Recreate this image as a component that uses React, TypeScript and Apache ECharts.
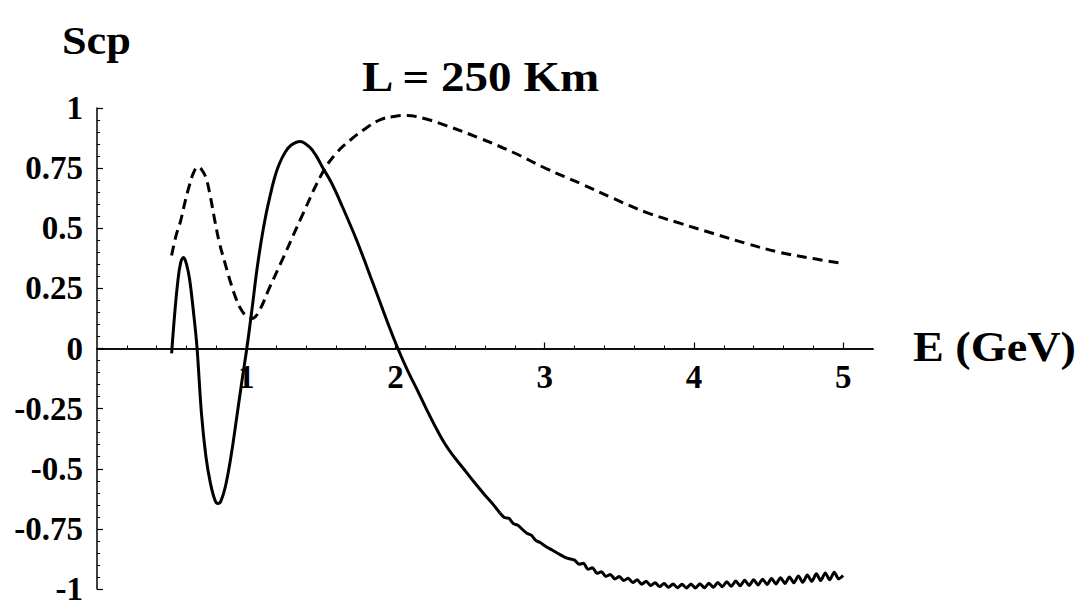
import React, { useEffect, useRef } from 'react';
import * as echarts from 'echarts';

// Solid curve (smooth part), [E (GeV), Scp]
const solidSmooth: [number, number][] = [
  [0.50, -0.02], [0.52, 0.14], [0.54, 0.27], [0.56, 0.355], [0.58, 0.378], [0.60, 0.35],
  [0.62, 0.29], [0.645, 0.16], [0.67, 0.005], [0.70, -0.27], [0.73, -0.45], [0.76, -0.56],
  [0.79, -0.63], [0.81, -0.645], [0.83, -0.635], [0.86, -0.575], [0.90, -0.44], [0.94, -0.27],
  [0.97, -0.14], [1.005, 0.005], [1.04, 0.17], [1.07, 0.32], [1.10, 0.445], [1.13, 0.55],
  [1.16, 0.635], [1.19, 0.71], [1.22, 0.765], [1.26, 0.815], [1.30, 0.845], [1.36, 0.861],
  [1.42, 0.84], [1.47, 0.80], [1.51, 0.755], [1.57, 0.69], [1.63, 0.61], [1.74, 0.45],
  [1.85, 0.27], [1.96, 0.087], [2.016, 0.0], [2.08, -0.09], [2.14, -0.165], [2.21, -0.255],
  [2.28, -0.34], [2.33, -0.395], [2.38, -0.44], [2.45, -0.495], [2.52, -0.55], [2.60, -0.61],
  [2.65, -0.645], [2.70, -0.684],
];

// Solid curve (numerically noisy tail), [E (GeV), Scp]
const solidNoisy: [number, number][] = [
  [2.70, -0.684], [2.73, -0.703], [2.76, -0.706], [2.79, -0.728], [2.82, -0.735], [2.85, -0.752],
  [2.88, -0.768], [2.91, -0.776], [2.94, -0.798], [2.97, -0.807], [3.00, -0.820], [3.05, -0.838],
  [3.10, -0.856], [3.15, -0.872], [3.20, -0.880], [3.23, -0.897], [3.26, -0.893], [3.29, -0.918],
  [3.32, -0.912], [3.35, -0.935], [3.38, -0.928], [3.41, -0.948], [3.44, -0.940], [3.47, -0.958],
  [3.50, -0.948], [3.53, -0.965], [3.56, -0.955], [3.59, -0.973], [3.62, -0.962], [3.65, -0.980],
  [3.68, -0.968], [3.71, -0.986], [3.74, -0.974], [3.77, -0.990], [3.80, -0.977], [3.83, -0.993],
  [3.86, -0.979], [3.89, -0.995], [3.92, -0.980], [3.95, -0.996], [3.98, -0.979], [4.01, -0.996],
  [4.04, -0.978], [4.07, -0.995], [4.10, -0.976], [4.13, -0.993], [4.16, -0.973], [4.19, -0.991],
  [4.22, -0.970], [4.25, -0.989], [4.28, -0.967], [4.31, -0.987], [4.34, -0.964], [4.37, -0.985],
  [4.40, -0.962], [4.43, -0.983], [4.46, -0.959], [4.49, -0.981], [4.52, -0.956], [4.55, -0.979],
  [4.58, -0.953], [4.61, -0.977], [4.64, -0.950], [4.67, -0.974], [4.70, -0.946], [4.73, -0.972],
  [4.76, -0.942], [4.79, -0.968], [4.82, -0.937], [4.85, -0.965], [4.88, -0.933], [4.91, -0.962],
  [4.94, -0.930], [4.97, -0.958], [5.00, -0.944],
];

// Dashed curve, [E (GeV), Scp]
const dashed: [number, number][] = [
  [0.50, 0.387], [0.53, 0.47], [0.56, 0.53], [0.59, 0.61], [0.62, 0.68], [0.65, 0.735],
  [0.677, 0.755], [0.70, 0.745], [0.73, 0.71], [0.76, 0.63], [0.79, 0.53], [0.82, 0.44],
  [0.86, 0.35], [0.89, 0.285], [0.93, 0.21], [0.96, 0.168], [1.00, 0.135], [1.04, 0.125],
  [1.09, 0.16], [1.15, 0.245], [1.25, 0.38], [1.38, 0.56], [1.51, 0.73], [1.60, 0.81],
  [1.70, 0.868], [1.80, 0.915], [1.90, 0.952], [2.00, 0.966], [2.07, 0.969], [2.20, 0.955],
  [2.34, 0.927], [2.57, 0.873], [2.79, 0.815], [3.01, 0.748], [3.24, 0.686], [3.46, 0.624],
  [3.68, 0.566], [3.91, 0.520], [4.13, 0.478], [4.35, 0.437], [4.58, 0.399], [4.80, 0.374],
  [5.00, 0.353],
];

const xMajorTicks = [1, 2, 3, 4, 5];
const xMinorTicks = [0.2, 0.4, 0.6, 0.8, 1.2, 1.4, 1.6, 1.8, 2.2, 2.4, 2.6, 2.8, 3.2, 3.4, 3.6, 3.8, 4.2, 4.4, 4.6, 4.8];

const xTitle = 'E (GeV)';
const yTitle = 'Scp';
const plotTitle = 'L = 250 Km';

const FONT = '"Liberation Serif", "Times New Roman", serif';

const GRID_TOP = 108;
const GRID_BOTTOM = 21;
const CHART_H = 610;

export default function App() {
  const ref = useRef<HTMLDivElement>(null);
  useEffect(() => {
    if (!ref.current) return;
    const chart = echarts.init(ref.current, undefined, { renderer: 'svg' });
    // the horizontal axis sits at Scp = 0, the middle of the symmetric [-1, 1] range
    const midOffset = -(CHART_H - GRID_TOP - GRID_BOTTOM) / 2;
    const lineStyle = { color: '#000', width: 1.5 };
    chart.setOption({
      animation: false,
      backgroundColor: '#fff',
      grid: { left: 97, right: 206, top: GRID_TOP, bottom: GRID_BOTTOM, containLabel: false, outerBoundsMode: 'none' },
      xAxis: [
        {
          type: 'value', min: 0, max: 5.2, position: 'bottom', offset: midOffset,
          axisLine: { show: true, onZero: false, lineStyle },
          splitLine: { show: false },
          axisTick: { show: true, inside: true, length: 6, customValues: xMajorTicks, lineStyle: { color: '#000', width: 1.2 } },
          axisLabel: {
            show: true, customValues: xMajorTicks, margin: 12,
            fontFamily: FONT, fontWeight: 'bold', fontSize: 33, color: '#000',
          },
        },
        {
          type: 'value', min: 0, max: 5.2, position: 'bottom', offset: midOffset,
          axisLine: { show: true, onZero: false, lineStyle },
          splitLine: { show: false },
          axisTick: { show: true, inside: true, length: 3, customValues: xMinorTicks, lineStyle: { color: '#000', width: 1 } },
          axisLabel: { show: false },
        },
      ],
      yAxis: {
        type: 'value', min: -1, max: 1, interval: 0.25,
        axisLine: { show: true, onZero: false, lineStyle },
        splitLine: { show: false },
        axisTick: { show: true, inside: true, length: 6, lineStyle: { color: '#000', width: 1.2 } },
        minorTick: { show: true, splitNumber: 5, length: 3, lineStyle: { color: '#000', width: 1 } },
        axisLabel: {
          margin: 14, fontFamily: FONT, fontWeight: 'bold', fontSize: 33, color: '#000',
        },
      },
      graphic: [
        { type: 'text', x: 62, y: 20, scaleX: 1.08, style: { text: yTitle, font: `bold 41px ${FONT}`, fill: '#000', textVerticalAlign: 'top' } },
        { type: 'text', x: 362, y: 56, scaleX: 1.12, style: { text: plotTitle, font: `bold 42px ${FONT}`, fill: '#000', textVerticalAlign: 'top' } },
        { type: 'text', x: 913, y: 326, scaleX: 1.1, style: { text: xTitle, font: `bold 42px ${FONT}`, fill: '#000', textVerticalAlign: 'top' } },
      ],
      series: [
        {
          type: 'line', data: solidSmooth, smooth: 0.4, showSymbol: false, silent: true,
          lineStyle: { color: '#000', width: 3 },
        },
        {
          type: 'line', data: solidNoisy, smooth: 0.25, showSymbol: false, silent: true,
          lineStyle: { color: '#000', width: 3, join: 'round' },
        },
        {
          type: 'line', data: dashed, smooth: 0.4, showSymbol: false, silent: true,
          lineStyle: { color: '#000', width: 3, type: [10, 6] },
        },
      ],
    });
    return () => chart.dispose();
  }, []);
  return <div ref={ref} style={{ position: 'absolute', left: 0, top: 0, width: 1079, height: 610 }} />;
}
